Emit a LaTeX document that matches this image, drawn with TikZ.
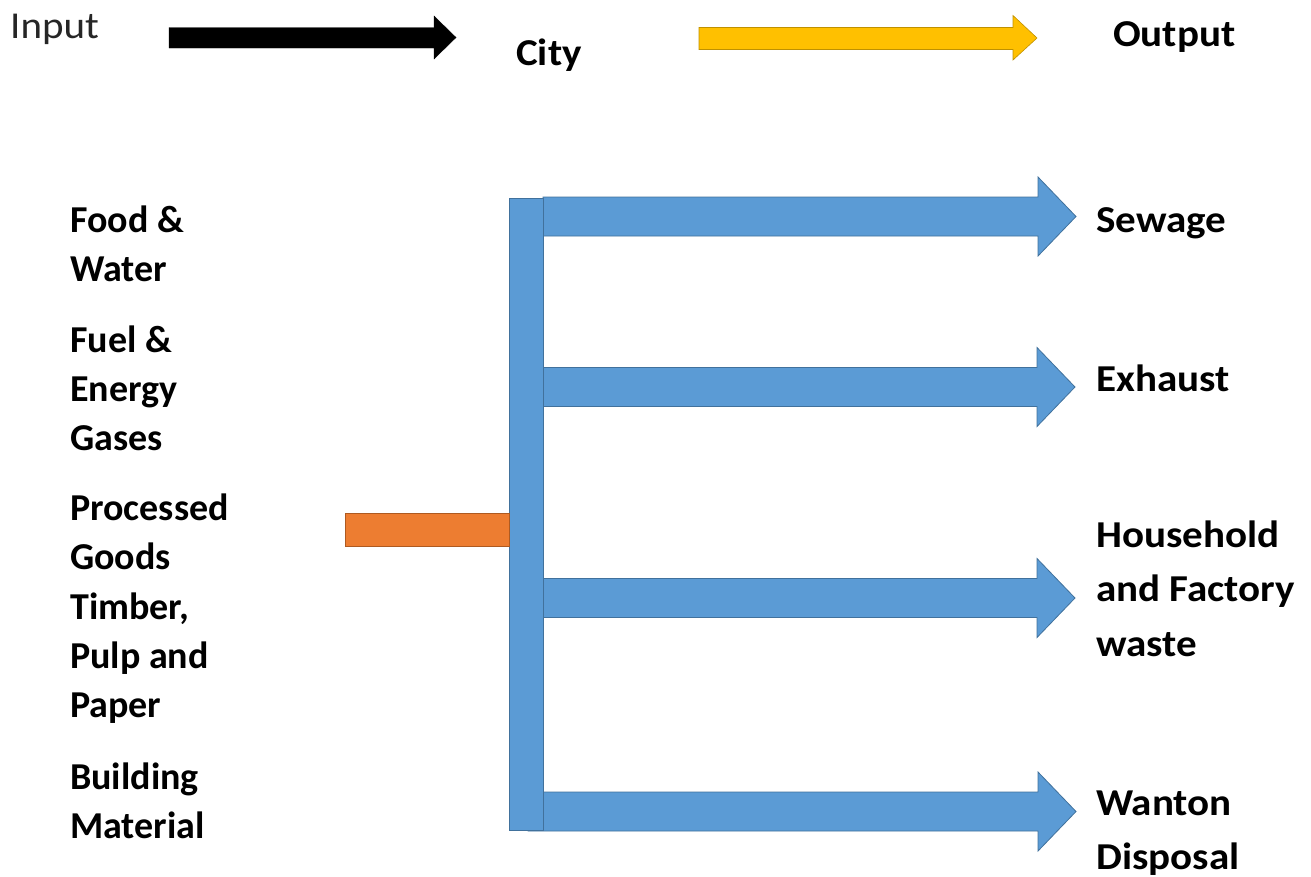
\documentclass[tikz,border=0pt]{standalone}
\usepackage{fontspec}
\setmainfont{Carlito}[FakeStretch=1.08]
\newfontfamily\leftfont{Carlito}
\definecolor{bluefill}{HTML}{5B9BD5}
\definecolor{blueedge}{HTML}{41719C}
\definecolor{orangefill}{HTML}{ED7D31}
\definecolor{orangeedge}{HTML}{AE5A21}
\definecolor{yellowfill}{HTML}{FFC000}
\definecolor{yellowedge}{HTML}{BF9000}
\definecolor{inputgray}{HTML}{262626}
\newcommand\outarrow[3]{% start x, centre y, tip x
  \filldraw[bluearrow] (#1,#2-19.5) -- (#3-38,#2-19.5) -- (#3-38,#2-39.5) -- (#3,#2)
    -- (#3-38,#2+39.5) -- (#3-38,#2+19.5) -- (#1,#2+19.5) -- cycle;}
\begin{document}
\begin{tikzpicture}[x=1pt,y=-1pt,
  bluearrow/.style={fill=bluefill,draw=blueedge,line width=0.8pt,line join=miter},
  lbl/.style={font=\leftfont\bfseries\fontsize{38}{49.3}\selectfont,inner sep=0pt,anchor=base west,align=left},
  rlbl/.style={font=\bfseries\fontsize{38}{54.5}\selectfont,inner sep=0pt,anchor=base west,align=left}]
\useasboundingbox (0,0) rectangle (1311,876);
% header
\node[font=\fontsize{38}{46}\selectfont,text=inputgray,inner sep=0pt,anchor=base west] (input) at (10,38) {Input};
\node[rlbl] (city) at (516,65) {City};
\node[rlbl] (output) at (1113,46) {Output};
\filldraw[fill=black,draw=black] (169,27.5) -- (434,27.5) -- (434,16) -- (456,37.5) -- (434,59) -- (434,48) -- (169,48) -- cycle;
\filldraw[fill=yellowfill,draw=yellowedge,line width=0.6pt] (699,27.5) -- (1013,27.5) -- (1013,15.5) -- (1037,38) -- (1013,60) -- (1013,49.5) -- (699,49.5) -- cycle;
% input labels (anchored at the baseline of their last line)
\node[lbl] (food) at (70,232+49.3) {Food \&\\Water};
\node[lbl] (fuel) at (70,352+2*49.3) {Fuel \&\\Energy\\Gases};
\node[lbl] (goods) at (70,520.5+4*49.3) {Processed\\Goods\\Timber,\\Pulp and\\Paper};
\node[lbl] (build) at (70,789+49.3) {Building\\Material};
% output arrows
\outarrow{543}{216.5}{1076}
\outarrow{528}{387}{1075}
\outarrow{528}{598}{1075}
\outarrow{528}{811.5}{1076}
% bar and feed
\filldraw[bluearrow] (509,198) rectangle (543,830);
\filldraw[fill=orangefill,draw=orangeedge,line width=0.8pt] (345,513) rectangle (509,546);
% output labels
\node[rlbl] (sewage) at (1096,232) {Sewage};
\node[rlbl] (exhaust) at (1096,391) {Exhaust};
\node[rlbl] (waste) at (1096,547+2*54.5) {Household\\and Factory\\waste};
\node[rlbl] (wanton) at (1096,815+54.5) {Wanton\\Disposal};
\end{tikzpicture}
\end{document}
